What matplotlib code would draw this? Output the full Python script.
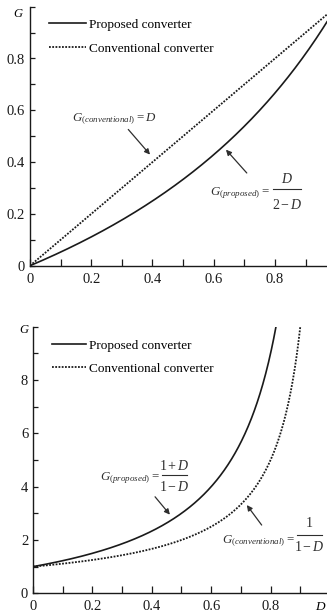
import numpy as np
import matplotlib
matplotlib.use("Agg")
import matplotlib.pyplot as plt
from matplotlib.lines import Line2D
from matplotlib.ticker import MultipleLocator, FuncFormatter

plt.rcParams['font.family'] = ['Liberation Serif', 'DejaVu Serif']
plt.rcParams['mathtext.fontset'] = 'custom'
plt.rcParams['mathtext.rm'] = 'Liberation Serif'
plt.rcParams['mathtext.it'] = 'Liberation Serif:italic'

# Duty-cycle grids
D_buck = np.linspace(0.0, 0.97, 300)
D_boost = np.linspace(0.0, 0.95, 600)

# Voltage gains (buck-type and boost-type)
G_buck_proposed = D_buck / (2 - D_buck)
G_buck_conventional = D_buck
G_boost_proposed = (1 + D_boost) / (1 - D_boost)
G_boost_conventional = 1 / (1 - D_boost)

series_names = ["Proposed converter", "Conventional converter"]
top_xticks = [0, 0.2, 0.4, 0.6, 0.8]
top_yticks = [0, 0.2, 0.4, 0.6, 0.8]
bot_xticks = [0, 0.2, 0.4, 0.6, 0.8]
bot_yticks = [0, 2, 4, 6, 8]

W, H = 327, 613
fig = plt.figure(figsize=(W / 100, H / 100), dpi=100)


def px_axes(x0, x1, ytop, ybot):
    return fig.add_axes([x0 / W, (H - ybot) / H, (x1 - x0) / W, (ybot - ytop) / H])


ax1 = px_axes(30, 327, 6.7, 265.7)
ax2 = px_axes(33, 327, 326.7, 593.3)

ink = "#1a1a1a"
txt = "#2e2e2e"
dotted = (0, (1, 0.8))

for ax in (ax1, ax2):
    for s in ("top", "right"):
        ax.spines[s].set_visible(False)
    for s in ("left", "bottom"):
        ax.spines[s].set_linewidth(1.0)
        ax.spines[s].set_color(ink)
    ax.tick_params(which="both", direction="in", width=0.9, colors=ink,
                   labelsize=10.5)
    ax.tick_params(axis="x", which="both", length=5, pad=5)
    ax.tick_params(axis="y", which="both", length=3.5, pad=3.5)
    ax.xaxis.set_major_formatter(FuncFormatter(lambda v, p: f"{v:g}"))
    ax.yaxis.set_major_formatter(FuncFormatter(lambda v, p: f"{v:g}"))


def formula(ax, lead, num, den, x_eq, y_base, x_bar, y_bar, y_num, y_den):
    """Left-hand side plus a stacked fraction, placed in data coordinates."""
    ax.text(x_eq, y_base, lead, ha="right", va="baseline", fontsize=9.3,
            color=txt, clip_on=False)
    xc = 0.5 * (x_bar[0] + x_bar[1])
    ax.text(xc, y_num, num, ha="center", va="center", fontsize=10,
            color=txt, clip_on=False)
    ax.text(xc, y_den, den, ha="center", va="center", fontsize=10,
            color=txt, clip_on=False)
    ax.add_line(Line2D(x_bar, [y_bar, y_bar], color=txt, lw=0.8,
                       clip_on=False))


def arrow(ax, tail, head):
    ax.annotate("", xy=head, xytext=tail,
                arrowprops=dict(arrowstyle="-|>", color=txt, lw=0.9,
                                mutation_scale=8, shrinkA=0, shrinkB=0))


# --- top panel: buck-type gain ---
ax1.plot(D_buck, G_buck_proposed, color=ink, lw=1.2, label=series_names[0])
ax1.plot(D_buck, G_buck_conventional, color=ink, lw=1.3, ls=dotted,
         label=series_names[1])
ax1.set_xlim(0, 0.97)
ax1.set_ylim(0, 1.0)
ax1.set_xticks(top_xticks)
ax1.set_yticks(top_yticks)
ax1.xaxis.set_minor_locator(MultipleLocator(0.1))
ax1.yaxis.set_minor_locator(MultipleLocator(0.1))
ax1.legend(loc="upper left", bbox_to_anchor=(0.065, 0.953), frameon=False,
           handlelength=2.8, handletextpad=0.2, fontsize=9.5,
           labelspacing=0.87, borderaxespad=0, borderpad=0)
ax1.text(-0.038, 0.972, "$G$", ha="center", va="center", fontsize=9,
         clip_on=False)
ax1.text(0.136, 0.558, r"$G_{(conventional)}=D$", ha="left",
         va="baseline", fontsize=9.3, color=txt)
arrow(ax1, (0.321, 0.526), (0.392, 0.429))
formula(ax1, r"$G_{(proposed)}=$", "$D$", r"$2-D$",
        0.784, 0.272, (0.793, 0.885), 0.296, 0.335, 0.235)
arrow(ax1, (0.708, 0.358), (0.640, 0.448))

# --- bottom panel: boost-type gain ---
ax2.plot(D_boost, G_boost_proposed, color=ink, lw=1.2, label=series_names[0])
ax2.plot(D_boost, G_boost_conventional, color=ink, lw=1.3, ls=dotted,
         label=series_names[1])
ax2.set_xlim(0, 0.99)
ax2.set_ylim(0, 10)
ax2.set_xticks(bot_xticks)
ax2.set_yticks(bot_yticks)
ax2.xaxis.set_minor_locator(MultipleLocator(0.1))
ax2.yaxis.set_minor_locator(MultipleLocator(1))
ax2.legend(loc="upper left", bbox_to_anchor=(0.064, 0.952), frameon=False,
           handlelength=2.6, handletextpad=0.2, fontsize=9.5,
           labelspacing=0.82, borderaxespad=0, borderpad=0)
ax2.text(-0.030, 9.87, "$G$", ha="center", va="center", fontsize=9,
         clip_on=False)
ax2.text(0.97, -0.051, "$D$", transform=ax2.get_xaxis_transform(),
         ha="center", va="center", fontsize=9.5)
formula(ax2, r"$G_{(proposed)}=$", r"$1+D$", r"$1-D$",
        0.428, 4.25, (0.433, 0.517), 4.44, 4.78, 4.0)
arrow(ax2, (0.411, 3.62), (0.461, 2.95))
formula(ax2, r"$G_{(conventional)}=$", "$1$", r"$1-D$",
        0.882, 1.886, (0.888, 0.972), 2.19, 2.62, 1.75)
arrow(ax2, (0.770, 2.56), (0.720, 3.31))

fig.savefig("out.png", dpi=100)
